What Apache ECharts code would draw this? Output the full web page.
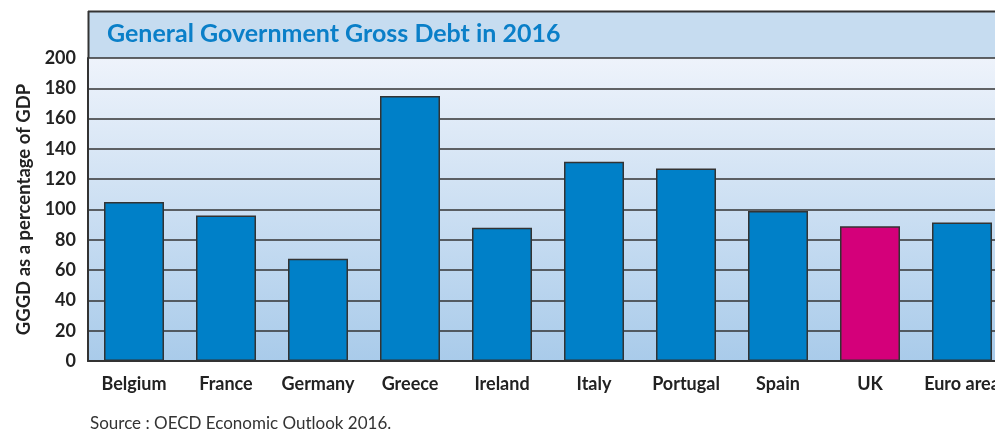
<!DOCTYPE html>
<html>
<head>
<meta charset="utf-8">
<script src="https://cdn.jsdelivr.net/npm/echarts@6/dist/echarts.min.js"></script>
<style>html,body{margin:0;padding:0;background:#fff}#c{width:995px;height:432px}</style>
</head>
<body>
<div id="c"></div>
<script>
const categories = ['Belgium','France','Germany','Greece','Ireland','Italy','Portugal','Spain','UK','Euro area'];
const debtValues = [105, 96, 67.5, 175, 88, 131.5, 127, 99, 89, 91.5];
const highlightCategory = 'UK';
const yTicks = [0,20,40,60,80,100,120,140,160,180,200];
const titleText = 'General Government Gross Debt in 2016';
const yAxisName = 'GGGD as a percentage of GDP';
const sourceText = 'Source : OECD Economic Outlook 2016.';

const FONT = 'Lato';
const chart = echarts.init(document.getElementById('c'), null, {renderer:'canvas'});
const option = {
  animation: false,
  backgroundColor: '#fff',
  grid: {
    left: 88, top: 58, bottom: 71, width: 920,
    outerBoundsMode: 'none',
    containLabel: false,
    show: true,
    borderWidth: 0,
    backgroundColor: new echarts.graphic.LinearGradient(0,0,0,1,[
      {offset:0,color:'#eef3fb'},{offset:1,color:'#a9cbea'}
    ])
  },
  graphic: [
    {type:'rect', left:88, top:11, shape:{width:920, height:47}, style:{fill:'#c6dcf0'}, z:-1},
    {type:'line', shape:{x1:88,y1:11.5,x2:1000,y2:11.5}, style:{stroke:'#333', lineWidth:2}},
    {type:'line', shape:{x1:88.5,y1:11,x2:88.5,y2:58}, style:{stroke:'#333', lineWidth:2}},
    {type:'text', left:107, top:21, style:{text:titleText, fill:'#0a7fc8', font:'bold 25px "'+FONT+'"'}},
    {type:'text', left:90, top:415, style:{text:sourceText, fill:'#333', font:'17px "'+FONT+'"'}}
  ],
  xAxis: {
    type:'category', data:categories,
    axisLine:{show:true, lineStyle:{color:'#333', width:2}},
    axisTick:{show:false},
    axisLabel:{color:'#222', fontWeight:'bold', fontSize:18, fontFamily:FONT, margin:14, interval:0}
  },
  yAxis: {
    type:'value', min:yTicks[0], max:yTicks[yTicks.length-1], interval:20,
    name:yAxisName, nameLocation:'middle', nameGap:53, nameRotate:90,
    nameTextStyle:{color:'#222', fontWeight:'bold', fontSize:18.5, fontFamily:FONT},
    axisLine:{show:true, lineStyle:{color:'#333', width:2}},
    axisTick:{show:false},
    axisLabel:{color:'#222', fontWeight:'bold', fontSize:18, fontFamily:FONT, margin:12},
    splitLine:{show:true, lineStyle:{color:'#333', width:1.5}}
  },
  series: [{
    type:'bar', barWidth:60,
    data: debtValues.map((v,i)=>({value:v, itemStyle:{color: categories[i]===highlightCategory ? '#d4007a' : '#0080c8'}})),
    itemStyle:{borderColor:'#333', borderWidth:1.5}
  }]
};
chart.setOption(option);
</script>
</body>
</html>
